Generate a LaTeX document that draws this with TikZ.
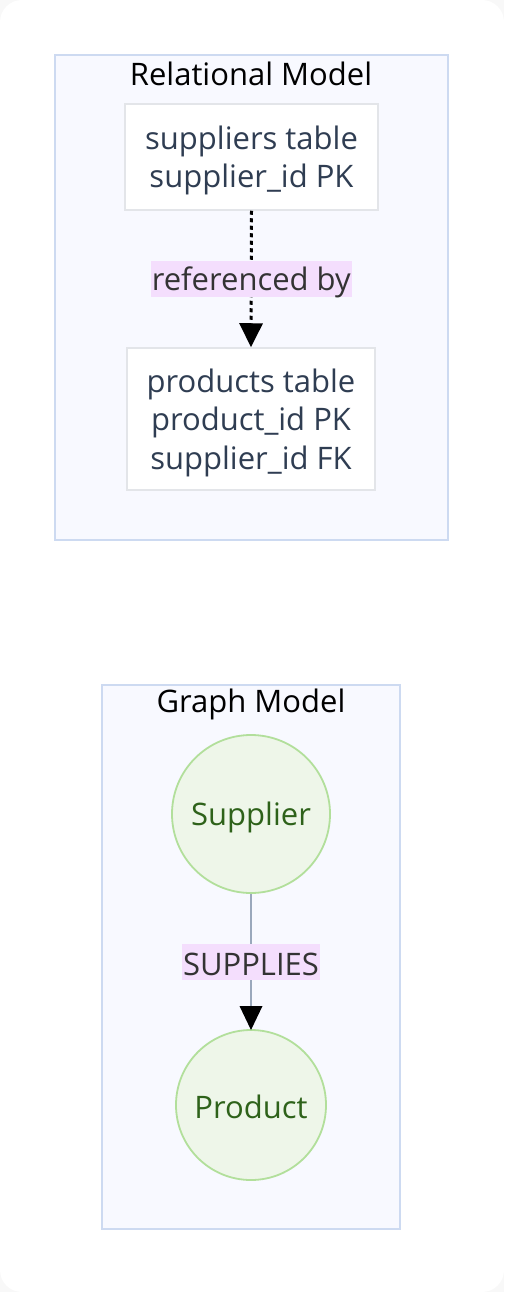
\documentclass[tikz,border=0pt]{standalone}
\usepackage{fontspec}
\setmainfont{Open Sans}
\usetikzlibrary{arrows.meta}
\definecolor{clfill}{HTML}{F8F9FF}
\definecolor{cldraw}{HTML}{CDDAF1}
\definecolor{boxdraw}{HTML}{E3E5E9}
\definecolor{slate}{HTML}{2F3D52}
\definecolor{lblbg}{HTML}{F4DEFD}
\definecolor{lbltext}{HTML}{333333}
\definecolor{cfill}{HTML}{EEF6E9}
\definecolor{cdraw}{HTML}{B2DF9B}
\definecolor{ctext}{HTML}{2E621A}
\definecolor{edgegray}{HTML}{9AA8BC}
\definecolor{outer}{HTML}{F8F8F8}
\newcommand{\lowr}[2]{\raisebox{-#1}[\height][\depth]{#2}}
\newcommand{\lines}[1]{\begin{tabular}{@{}c@{}}#1\end{tabular}}
\begin{document}
\begin{tikzpicture}[x=1pt,y=-1pt,
  cluster/.style={draw=cldraw,fill=clfill,line width=1.8pt},
  title/.style={font=\fontsize{31}{38}\selectfont,text=black,inner sep=0pt},
  tablebox/.style={draw=boxdraw,fill=white,line width=1.5pt,text=slate,
    font=\fontsize{31}{38.5}\selectfont,inner sep=0pt},
  elabel/.style={fill=lblbg,text=lbltext,font=\fontsize{31}{38}\selectfont,inner xsep=1pt,inner ysep=0pt,minimum height=36pt},
  entity/.style={circle,draw=cdraw,fill=cfill,line width=1.8pt,text=ctext,
    font=\fontsize{31}{38}\selectfont,inner sep=0pt},
  tip/.style={-{Triangle[length=24pt,width=23pt]}},
]
\useasboundingbox (0,0) rectangle (504,1292);
\fill[outer] (0,0) rectangle (504,1292);
\fill[white,rounded corners=22pt] (0,0) rectangle (504,1292);

% Relational cluster
\draw[cluster] (55,55) rectangle (448,540);
\node[title] (reltitle) at (251,74) {Relational Model};
\node[tablebox,minimum width=253pt,minimum height=106pt] (sup) at (251.5,157)
  {\lowr{4pt}{\lines{suppliers table\\supplier\_id PK}}};
\node[tablebox,minimum width=248pt,minimum height=142pt] (prod) at (251,419)
  {\lowr{4pt}{\lines{products table\\product\_id PK\\supplier\_id FK}}};
\draw[line width=3pt,dash pattern=on 4pt off 3.5pt,tip] (sup.south) -- (prod.north)
  node[pos=0.5,elabel,solid] (rlbl) {\lowr{3pt}{referenced by}};

% Graph cluster
\draw[cluster] (102,685) rectangle (400,1229);
\node[title] (graphtitle) at (251,704) {Graph Model};
\node[entity,minimum size=158pt] (supplier) at (251,814) {\lowr{3pt}{Supplier}};
\node[entity,minimum size=150pt] (product) at (251,1105) {\lowr{2pt}{Product}};
\draw[line width=2pt,edgegray] (supplier.south) -- (product.north)
  node[pos=0.5,elabel] (glbl) {\lowr{3pt}{SUPPLIES}};
\draw[line width=2pt,draw=none,fill=black] (251,1030) -- ++(-11.5,-24) -- ++(23,0) -- cycle;
\end{tikzpicture}
\end{document}
